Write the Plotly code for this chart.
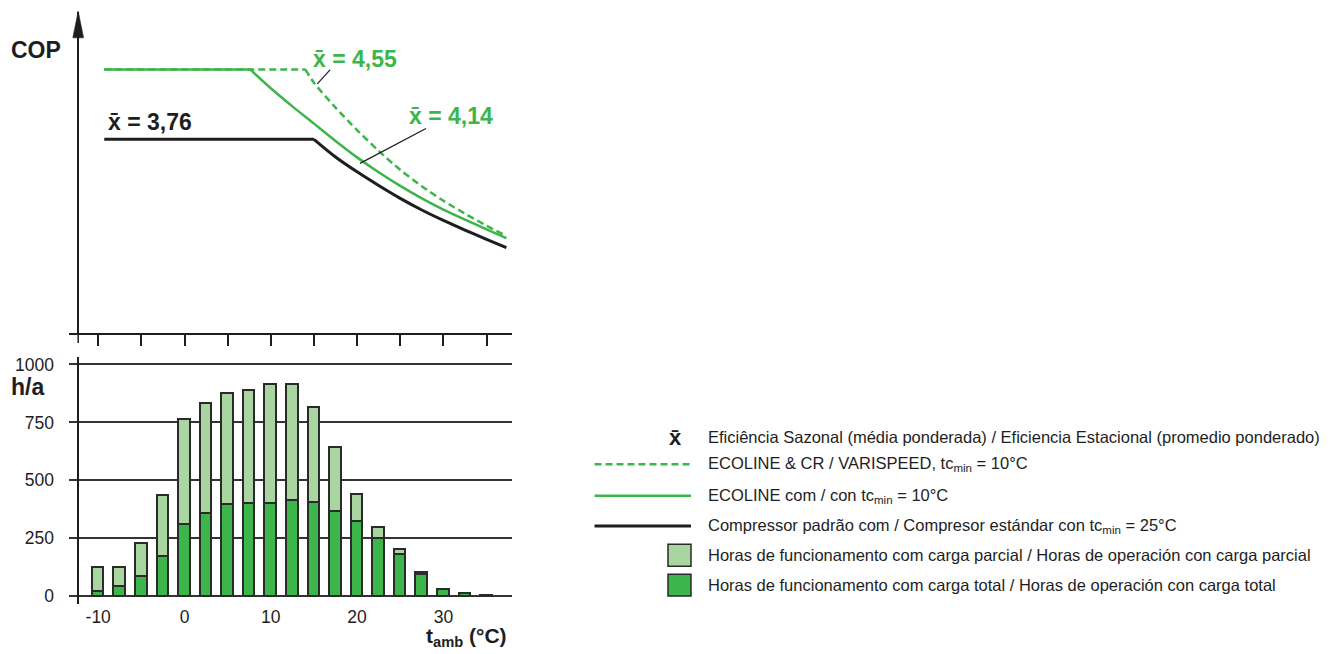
import plotly.graph_objects as go

# ---------------- data ----------------
t_bins = [-10, -7.5, -5, -2.5, 0, 2.5, 5, 7.5, 10, 12.5, 15, 17.5, 20, 22.5, 25, 27.5, 30, 32.5, 35]
hours_full = [20, 40, 85, 172, 308, 357, 397, 400, 400, 413, 403, 365, 320, 248, 178, 92, 27, 12, 3]
hours_total = [122, 122, 228, 434, 762, 832, 876, 886, 913, 913, 816, 640, 438, 294, 200, 100, 27, 12, 3]
hours_partial = [tot - f for tot, f in zip(hours_total, hours_full)]

# COP curves: first two points = constant part, from the second point on = falling part
t_varispeed = [-9.3, 14.0, 15, 17.5, 20, 22.5, 25, 27.5, 30, 32.5, 35, 37.3]
cop_varispeed = [6.57, 6.57, 6.24, 5.62, 5.06, 4.54, 4.07, 3.66, 3.30, 2.98, 2.68, 2.42]

t_ecoline = [-9.3, 7.6, 10, 12.5, 15, 17.5, 20, 22.5, 25, 27.5, 30, 32.5, 35, 37.3]
cop_ecoline = [6.57, 6.57, 6.10, 5.65, 5.22, 4.79, 4.38, 4.01, 3.67, 3.36, 3.08, 2.83, 2.59, 2.37]

t_standard = [-9.3, 15.0, 17.5, 20, 22.5, 25, 27.5, 30, 32.5, 35, 37.3]
cop_standard = [4.83, 4.83, 4.39, 4.02, 3.68, 3.36, 3.07, 2.81, 2.57, 2.34, 2.13]

x_ticks_top = [-10, -5, 0, 5, 10, 15, 20, 25, 30, 35]
x_ticks_bottom = [-10, 0, 10, 20, 30]
x_tick_labels = ["-10", "0", "10", "20", "30"]
y_ticks_hours = [0, 250, 500, 750, 1000]
y_tick_labels_hours = ["0", "250", "500", "750", "1000"]

labels_mean = ["x\u0304 = 4,55", "x\u0304 = 4,14", "x\u0304 = 3,76"]
legend_texts = [
    "Eficiência Sazonal (média ponderada) / Eficiencia Estacional (promedio ponderado)",
    "ECOLINE &amp; CR / VARISPEED, tc<sub>min</sub> = 10°C",
    "ECOLINE com / con tc<sub>min</sub> = 10°C",
    "Compressor padrão com / Compresor estándar con tc<sub>min</sub> = 25°C",
    "Horas de funcionamento com carga parcial / Horas de operación con carga parcial",
    "Horas de funcionamento com carga total / Horas de operación con carga total",
]

# ---------------- styles ----------------
OFF = 8  # default page body margin
W, H = 1336 - OFF, 654 - OFF
FONT = "Liberation Sans, Arial, Helvetica, sans-serif"
GREEN = "#3cb54a"
LIGHT = "#a9d6a0"
BLACK = "#1e1e1e"
GRID = "#333333"
DASH = "7px,4px"


def px(x):
    return (x - OFF) / W


def py(y):
    return 1 - (y - OFF) / H


X_RANGE = [-13.43, 37.95]
X_DOMAIN = [px(68.6), px(512)]
AXIS_POS = px(78.2)

fig = go.Figure()


def add_curve(t, cop, color, width, dash="solid"):
    # constant part
    fig.add_trace(go.Scatter(x=t[:2], y=cop[:2], mode="lines",
                             line=dict(color=color, width=width, dash=dash),
                             xaxis="x", yaxis="y", showlegend=False, hoverinfo="skip"))
    # falling part, smoothed
    fig.add_trace(go.Scatter(x=t[1:], y=cop[1:], mode="lines",
                             line=dict(color=color, width=width, dash=dash, shape="spline",
                                       smoothing=0.8),
                             xaxis="x", yaxis="y", showlegend=False, hoverinfo="skip"))


add_curve(t_standard, cop_standard, BLACK, 3)
add_curve(t_ecoline, cop_ecoline, GREEN, 2.5)
add_curve(t_varispeed, cop_varispeed, GREEN, 2.5, DASH)

# Hours bars (bottom panel)
fig.add_trace(go.Bar(x=t_bins, y=hours_full, width=1.35, xaxis="x2", yaxis="y2",
                     marker=dict(color=GREEN, line=dict(color="#2a2a2a", width=1.5)),
                     showlegend=False, hoverinfo="skip"))
fig.add_trace(go.Bar(x=t_bins, y=hours_partial, width=1.35, xaxis="x2", yaxis="y2",
                     marker=dict(color=LIGHT, line=dict(color="#2a2a2a", width=1.5)),
                     showlegend=False, hoverinfo="skip"))

shapes = []
annotations = []


def label(x, y, text, size, color=BLACK, xref="paper", yref="paper", xanchor="center"):
    annotations.append(dict(x=x, y=y, xref=xref, yref=yref, text=text, showarrow=False,
                            xanchor=xanchor, yanchor="middle",
                            font=dict(size=size, color=color, family=FONT)))


# top y-axis arrow head and small extension
shapes.append(dict(type="path", xref="paper", yref="paper",
                   path=f"M {px(78.2)},{py(9)} L {px(72.8)},{py(36)} L {px(83.6)},{py(36)} Z",
                   fillcolor=BLACK, line=dict(color=BLACK, width=0.5)))
shapes.append(dict(type="line", xref="paper", yref="paper",
                   x0=AXIS_POS, x1=AXIS_POS, y0=py(333.3), y1=py(343),
                   line=dict(color=BLACK, width=1.5)))

# leader lines for mean annotations
shapes.append(dict(type="line", xref="x", yref="y", x0=16.86, y0=6.56, x1=15.39, y1=6.21,
                   line=dict(color=BLACK, width=1.2)))
shapes.append(dict(type="line", xref="x", yref="y", x0=27.98, y0=5.10, x1=20.34, y1=4.23,
                   line=dict(color=BLACK, width=1.2)))

label(19.8, 6.83, "<b>" + labels_mean[0] + "</b>", 23, GREEN, "x", "y")
label(30.9, 5.40, "<b>" + labels_mean[1] + "</b>", 23, GREEN, "x", "y")
label(-4.0, 5.25, "<b>" + labels_mean[2] + "</b>", 23, BLACK, "x", "y")

# axis titles
label(px(35.6), py(48), "<b>COP</b>", 23)
label(px(27), py(387), "<b>h/a</b>", 23)
label(px(466), py(639), "<b>t<sub>amb</sub> (°C)</b>", 21)

# custom legend
row_y = [438, 465, 496.7, 527.3, 556.7, 586.7]
label(px(675.5), py(row_y[0]), "<b>x\u0304</b>", 22)
shapes.append(dict(type="line", xref="paper", yref="paper", x0=px(594.5), x1=px(691),
                   y0=py(row_y[1]), y1=py(row_y[1]), line=dict(color=GREEN, width=2.5, dash=DASH)))
shapes.append(dict(type="line", xref="paper", yref="paper", x0=px(594.5), x1=px(691),
                   y0=py(row_y[2]), y1=py(row_y[2]), line=dict(color=GREEN, width=2.5)))
shapes.append(dict(type="line", xref="paper", yref="paper", x0=px(594.5), x1=px(691),
                   y0=py(row_y[3]), y1=py(row_y[3]), line=dict(color=BLACK, width=3)))
for ry, col in ((row_y[4], LIGHT), (row_y[5], GREEN)):
    shapes.append(dict(type="rect", xref="paper", yref="paper", x0=px(668), x1=px(691),
                       y0=py(ry - 11), y1=py(ry + 11), fillcolor=col,
                       line=dict(color="#2a2a2a", width=1.5)))
for ry, txt in zip(row_y, legend_texts):
    label(px(706), py(ry), txt, 16.5, xanchor="left")

fig.update_layout(
    width=W, height=H,
    margin=dict(l=0, r=0, t=0, b=0),
    paper_bgcolor="white", plot_bgcolor="rgba(0,0,0,0)",
    font=dict(family=FONT, color=BLACK),
    barmode="stack", bargap=0,
    showlegend=False,
    xaxis=dict(domain=X_DOMAIN, range=X_RANGE, anchor="y", showline=True, linecolor=BLACK,
               linewidth=1.5, ticks="outside", ticklen=11, tickwidth=1.5, tickcolor=BLACK,
               tickvals=x_ticks_top, showticklabels=False, showgrid=False, zeroline=False),
    yaxis=dict(domain=[py(333.3), py(10)], range=[0, 8], anchor="free", position=AXIS_POS,
               showline=True, linecolor=BLACK, linewidth=1.5, showticklabels=False,
               ticks="", showgrid=False, zeroline=False),
    xaxis2=dict(domain=X_DOMAIN, range=X_RANGE, anchor="y2", showline=False, showgrid=False,
                zeroline=False, tickvals=x_ticks_bottom, ticktext=x_tick_labels, ticks="",
                tickfont=dict(size=17.5, color=BLACK)),
    yaxis2=dict(domain=[py(606), py(356.7)], range=[-35.6, 1034.3], anchor="free", position=AXIS_POS,
                showline=True, linecolor=BLACK, linewidth=1.5, showgrid=True, gridcolor=GRID,
                gridwidth=1.5, zeroline=False, tickvals=y_ticks_hours, ticktext=y_tick_labels_hours,
                ticks="", ticklabelstandoff=20, tickfont=dict(size=17.5, color=BLACK)),
    shapes=shapes,
    annotations=annotations,
)

fig.write_html("out.html")
